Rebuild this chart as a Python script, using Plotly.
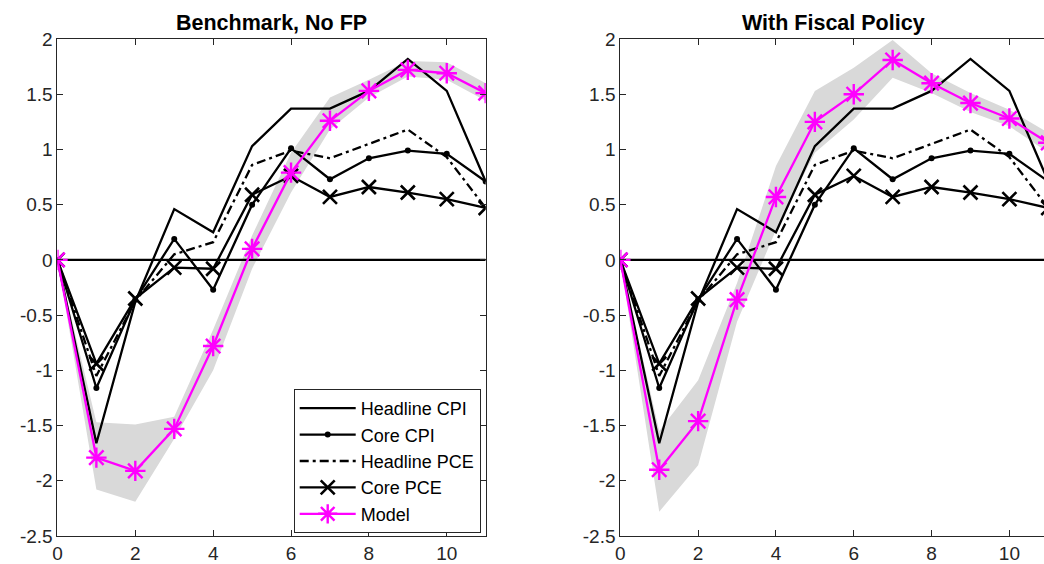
import plotly.graph_objects as go

# ---------------- data ----------------
horizon = [0, 1, 2, 3, 4, 5, 6, 7, 8, 9, 10, 11]

headline_cpi = [0, -1.66, -0.38, 0.46, 0.25, 1.03, 1.37, 1.37, 1.53, 1.82, 1.53, 0.71]
core_cpi     = [0, -1.16, -0.36, 0.19, -0.27, 0.50, 1.01, 0.73, 0.92, 0.99, 0.96, 0.71]
headline_pce = [0, -1.05, -0.37, 0.05, 0.16, 0.86, 0.99, 0.92, 1.05, 1.18, 0.93, 0.47]
core_pce     = [0, -0.94, -0.35, -0.07, -0.08, 0.59, 0.76, 0.57, 0.66, 0.61, 0.55, 0.47]

model_nofp = [0, -1.79, -1.91, -1.53, -0.78, 0.10, 0.79, 1.26, 1.53, 1.72, 1.69, 1.51]
lo_nofp    = [0, -2.08, -2.19, -1.62, -1.00, -0.08, 0.61, 1.18, 1.47, 1.66, 1.63, 1.44]
hi_nofp    = [0, -1.47, -1.49, -1.42, -0.63, 0.22, 0.97, 1.47, 1.63, 1.80, 1.79, 1.60]

model_fp = [0, -1.90, -1.46, -0.36, 0.57, 1.25, 1.50, 1.81, 1.60, 1.42, 1.28, 1.06]
lo_fp    = [0, -2.28, -1.86, -0.56, 0.27, 0.97, 1.27, 1.65, 1.51, 1.34, 1.21, 0.97]
hi_fp    = [0, -1.55, -1.09, -0.21, 0.85, 1.53, 1.74, 1.99, 1.69, 1.51, 1.36, 1.15]

zero_x = [0, 11]
zero_y = [0, 0]

titles = ["Benchmark, No FP", "With Fiscal Policy"]
xtick_vals = [0, 2, 4, 6, 8, 10]
xtick_text = ["0", "2", "4", "6", "8", "10"]
ytick_vals = [-2.5, -2, -1.5, -1, -0.5, 0, 0.5, 1, 1.5, 2]
ytick_text = ["-2.5", "-2", "-1.5", "-1", "-0.5", "0", "0.5", "1", "1.5", "2"]

# ---------------- figure ----------------
FONT = "Liberation Sans, Arial, sans-serif"
AX = "#262626"
MAG = "#ff00ff"
BAND = "#d9d9d9"

fig = go.Figure()

panels = [
    (model_nofp, lo_nofp, hi_nofp, "x", "y", True),
    (model_fp, lo_fp, hi_fp, "x2", "y2", False),
]

for model, lo, hi, xa, ya, show in panels:
    fig.add_trace(go.Scatter(
        x=horizon + horizon[::-1], y=hi + lo[::-1], fill="toself",
        fillcolor=BAND, line=dict(width=0), mode="lines",
        hoverinfo="skip", showlegend=False, xaxis=xa, yaxis=ya))
    fig.add_trace(go.Scatter(
        x=zero_x, y=zero_y, mode="lines", line=dict(color="black", width=2.2),
        showlegend=False, hoverinfo="skip", xaxis=xa, yaxis=ya))
    fig.add_trace(go.Scatter(
        x=horizon, y=headline_cpi, mode="lines", name="Headline CPI",
        line=dict(color="black", width=2.3), showlegend=show, xaxis=xa, yaxis=ya))
    fig.add_trace(go.Scatter(
        x=horizon, y=core_cpi, mode="lines+markers", name="Core CPI",
        line=dict(color="black", width=2.3),
        marker=dict(symbol="circle", size=6, color="black"),
        showlegend=show, xaxis=xa, yaxis=ya))
    fig.add_trace(go.Scatter(
        x=horizon, y=headline_pce, mode="lines", name="Headline PCE",
        line=dict(color="black", width=2.3, dash="9px,4px,3px,4px"),
        showlegend=show, xaxis=xa, yaxis=ya))
    fig.add_trace(go.Scatter(
        x=horizon, y=core_pce, mode="lines+markers", name="Core PCE",
        line=dict(color="black", width=2.3),
        marker=dict(symbol="x-thin-open", size=14, color="black",
                    line=dict(color="black", width=2.6)),
        showlegend=show, xaxis=xa, yaxis=ya))
    fig.add_trace(go.Scatter(
        x=horizon, y=model, mode="lines+markers", name="Model",
        line=dict(color=MAG, width=2.3),
        marker=dict(symbol="asterisk-open", size=17, color=MAG,
                    line=dict(color=MAG, width=2.4)),
        showlegend=show, xaxis=xa, yaxis=ya))

W, H = 1044, 564
L1, R1 = 52.7 / W, 483 / W
L2 = 618.3 / W

common_x = dict(
    tickmode="array", tickvals=xtick_vals, ticktext=xtick_text,
    ticks="inside", ticklen=6, tickcolor=AX, tickwidth=1,
    showline=True, linecolor=AX, linewidth=1, showgrid=False, zeroline=False,
    tickfont=dict(family=FONT, size=19, color=AX),
)
common_y = dict(
    range=[-2.5, 2], tickmode="array", tickvals=ytick_vals, ticktext=ytick_text,
    ticks="inside", ticklen=6, tickcolor=AX, tickwidth=1,
    showline=True, linecolor=AX, linewidth=1, showgrid=False, zeroline=False,
    tickfont=dict(family=FONT, size=19, color=AX),
)

fig.update_layout(
    width=W, height=H,
    margin=dict(l=0, r=0, t=39, b=28),
    paper_bgcolor="white", plot_bgcolor="white",
    font=dict(family=FONT, color=AX),
    xaxis=dict(domain=[L1, R1], range=[0, 11], mirror="ticks", anchor="y", **common_x),
    yaxis=dict(domain=[0, 1], mirror="ticks", anchor="x", **common_y),
    xaxis2=dict(domain=[L2, 1], range=[0, 10.89], mirror="ticks", anchor="y2", **common_x),
    yaxis2=dict(domain=[0, 1], mirror=False, anchor="x2", **common_y),
    legend=dict(
        x=478 / W, y=0.006, xanchor="right", yanchor="bottom",
        bgcolor="white", bordercolor=AX, borderwidth=1,
        font=dict(family=FONT, size=18, color="black"),
        tracegroupgap=0, itemwidth=56,
    ),
    showlegend=True,
)

fig.add_annotation(text="<b>" + titles[0] + "</b>", x=(52.7 + 483) / 2 / W, y=1.032,
                   xref="paper", yref="paper", showarrow=False,
                   xanchor="center", yanchor="middle",
                   font=dict(family=FONT, size=21.5, color="black"))
fig.add_annotation(text="<b>" + titles[1] + "</b>", x=832 / W, y=1.032,
                   xref="paper", yref="paper", showarrow=False,
                   xanchor="center", yanchor="middle",
                   font=dict(family=FONT, size=21.5, color="black"))

fig.write_html("out.html")
